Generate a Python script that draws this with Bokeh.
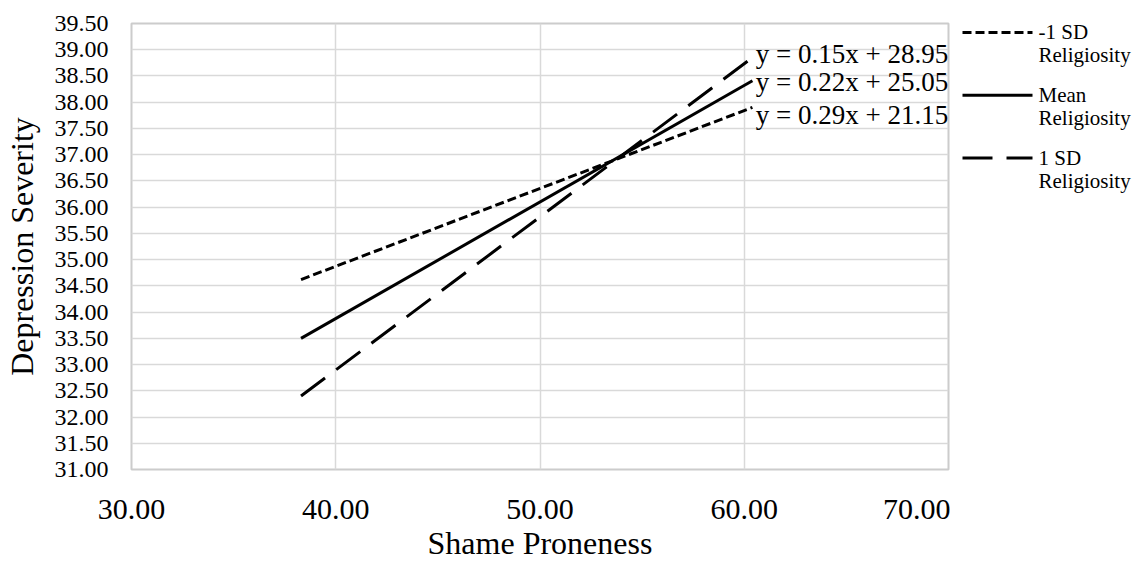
from bokeh.plotting import figure
from bokeh.layouts import row
from bokeh.models import Range1d, FixedTicker, NumeralTickFormatter, ColumnDataSource, LabelSet
from bokeh.core.properties import value
from bokeh.embed import file_html
from bokeh.resources import INLINE

# data
shame = [38.3, 60.4]
low_sd = [34.62, 37.90]
mean_rel = [33.50, 38.41]
high_sd = [32.40, 38.85]
series_names = [["-1 SD", "Religiosity"], ["Mean", "Religiosity"], ["1 SD", "Religiosity"]]
equations = ["y = 0.15x + 28.95", "y = 0.22x + 25.05", "y = 0.29x + 21.15"]
eq_x = [60.56, 60.56, 60.56]
eq_y = [38.75, 38.22, 37.58]
x_ticks = [30, 40, 50, 60, 70]
y_ticks = [31 + 0.5 * i for i in range(18)]

FONT = "Liberation Serif"
DASHES = ["9 4", "solid", "30 14"]

TOP, BOTTOM, LEFT = 23, 92, 130

p = figure(width=950, height=563, output_backend="svg", toolbar_location=None,
           x_range=Range1d(30, 70), y_range=Range1d(31, 39.5),
           min_border_left=LEFT, min_border_right=2, min_border_top=TOP, min_border_bottom=BOTTOM)
p.background_fill_color = "white"
p.border_fill_color = "white"
p.outline_line_color = "#cccccc"
p.outline_line_width = 2

p.xaxis.ticker = FixedTicker(ticks=x_ticks)
p.yaxis.ticker = FixedTicker(ticks=y_ticks)
p.xaxis.formatter = NumeralTickFormatter(format="0.00")
p.yaxis.formatter = NumeralTickFormatter(format="0.00")
for ax in (p.xaxis, p.yaxis):
    ax.axis_line_color = None
    ax.major_tick_line_color = None
    ax.minor_tick_line_color = None
    ax.major_label_text_font = FONT
    ax.axis_label_text_font = FONT
    ax.axis_label_text_font_style = "normal"
    ax.major_label_text_color = "black"
    ax.axis_label_text_color = "black"
p.xaxis.major_label_text_font_size = "30px"
p.yaxis.major_label_text_font_size = "24px"
p.xaxis.major_label_standoff = 24
p.yaxis.major_label_standoff = 17
p.xaxis.axis_label = "Shame Proneness"
p.yaxis.axis_label = "Depression Severity"
p.xaxis.axis_label_text_font_size = "32px"
p.yaxis.axis_label_text_font_size = "32px"
p.xaxis.axis_label_standoff = 3
p.yaxis.axis_label_standoff = 12

p.xgrid.grid_line_color = "#d9d9d9"
p.ygrid.grid_line_color = "#d9d9d9"
p.xgrid.grid_line_width = 1.5
p.ygrid.grid_line_width = 1.5

for ys, dash in zip([low_sd, mean_rel, high_sd], DASHES):
    p.line(shame, ys, line_color="black", line_width=3, line_dash=dash)

src = ColumnDataSource(dict(x=eq_x, y=eq_y, t=equations))
p.add_layout(LabelSet(x="x", y="y", text="t", source=src, text_font=value(FONT),
                      text_font_size="27px", text_baseline="alphabetic",
                      text_align="left", text_color="black"))

# legend panel (pixel coordinates, y downward, frame aligned with main frame)
lg = figure(width=186, height=563, output_backend="svg", toolbar_location=None,
            x_range=Range1d(0, 186), y_range=Range1d(563 - BOTTOM, TOP),
            x_axis_location=None, y_axis_location=None, title=None,
            min_border_left=0, min_border_right=0,
            min_border_top=TOP, min_border_bottom=BOTTOM)
lg.grid.visible = False
lg.outline_line_color = None
lg.background_fill_color = "white"
lg.border_fill_color = "white"

row_y = [32, 95, 158]
for ry, dash, names in zip(row_y, DASHES, series_names):
    lg.line([12, 82], [ry, ry], line_color="black", line_width=3, line_dash=dash)
    lg.text(x=[88, 88], y=[ry, ry + 23], text=names, text_font=value(FONT),
            text_font_size="21px", text_baseline="middle", text_align="left",
            text_color="black")

layout = row(p, lg, spacing=0)
open("out.html", "w").write(file_html(layout, INLINE))
